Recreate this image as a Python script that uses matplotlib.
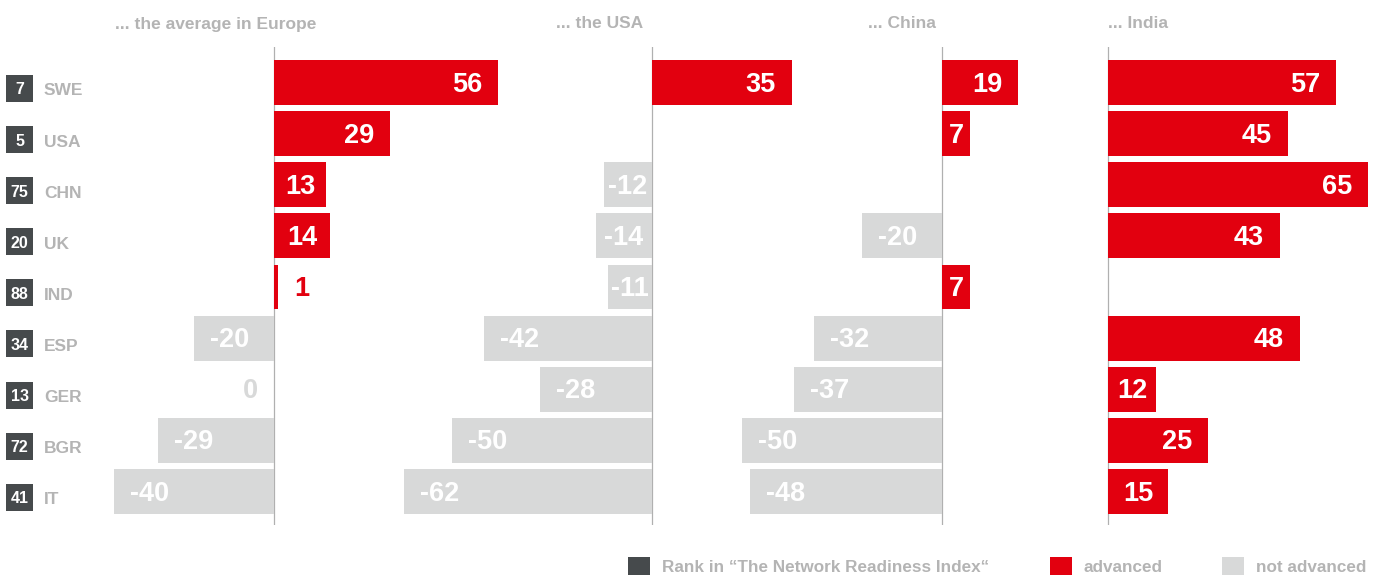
import numpy as np
import matplotlib.pyplot as plt
from matplotlib.patches import Rectangle
from matplotlib.transforms import blended_transform_factory

countries = ["SWE", "USA", "CHN", "UK", "IND", "ESP", "GER", "BGR", "IT"]
ranks = [7, 5, 75, 20, 88, 34, 13, 72, 41]
panel_titles = ["... the average in Europe", "... the USA", "... China", "... India"]
vs_europe = [56, 29, 13, 14, 1, -20, 0, -29, -40]
vs_usa = [35, np.nan, -12, -14, -11, -42, -28, -50, -62]
vs_china = [19, 7, np.nan, -20, 7, -32, -37, -50, -48]
vs_india = [57, 45, 65, 43, np.nan, 48, 12, 25, 15]
panels = [vs_europe, vs_usa, vs_china, vs_india]

RED = "#e2000f"
GREY = "#d8d9d9"
TXT = "#b4b4b4"
DARK = "#464a4c"
W, H = 1383, 575
plt.rcParams["font.family"] = ["Liberation Sans", "DejaVu Sans"]

fig = plt.figure(figsize=(W / 100, H / 100), dpi=100)

# pixel layout of the panels (zero line position), ~4 px per unit
zeros = [274, 652, 942, 1108]
title_x = [115, 556, 868, 1108]
px_per_unit = 4.0
half = 70
top_px, bot_px = 47, 525
ylim = (8.656, -0.695)


def value_label(ax, x, y, txt, ha, color):
    ax.text(x, y + 0.04, txt, ha=ha, va="center", color=color, fontsize=19.5,
            fontweight="bold", zorder=3)


axes = []
for i, vals in enumerate(panels):
    left = zeros[i] - half * px_per_unit
    width = 2 * half * px_per_unit
    ax = fig.add_axes([left / W, 1 - bot_px / H, width / W, (bot_px - top_px) / H])
    ax.set_xlim(-half, half)
    ax.set_ylim(*ylim)
    ax.patch.set_visible(False)
    ax.axis("off")
    ax.axvline(0, color="#b0b0b0", lw=0.9, zorder=1)
    y = np.arange(len(countries))
    v = np.array(vals, dtype=float)
    colors = [RED if x > 0 else GREY for x in v]
    ax.barh(y, np.nan_to_num(v), height=0.88, color=colors, zorder=2)
    for yi, x in zip(y, v):
        if np.isnan(x):
            continue
        col = RED if x > 0 else GREY
        lab = f"{int(x)}"
        if abs(x) < 5:
            # too small: label sits outside in bar colour
            if x > 0:
                value_label(ax, x + 4, yi, lab, "left", col)
            else:
                value_label(ax, x - 4, yi, lab, "right", col)
        elif abs(x) <= 16:
            value_label(ax, x / 2, yi, lab, "center", "white")
        elif x > 0:
            value_label(ax, x - 4, yi, lab, "right", "white")
        else:
            value_label(ax, x + 4, yi, lab, "left", "white")
    fig.text(title_x[i] / W, 1 - 24 / H, panel_titles[i], ha="left", va="center",
             color=TXT, fontsize=12.5, fontweight="bold")
    axes.append(ax)

# rank boxes and country names
tr = blended_transform_factory(fig.transFigure, axes[0].transData)
for yi, (c, r) in enumerate(zip(countries, ranks)):
    yc = yi + 0.115
    box = Rectangle((6 / W, yc - 0.264), 27 / W, 0.528, transform=tr,
                    facecolor=DARK, edgecolor="none", clip_on=False)
    fig.add_artist(box)
    fig.text(19.5 / W, yc + 0.03, str(r), transform=tr, ha="center", va="center",
             color="white", fontsize=11.5, fontweight="bold")
    fig.text(44 / W, yc + 0.05, c, transform=tr, ha="left", va="center",
             color=TXT, fontsize=12.5, fontweight="bold")

# legend
legend_items = [(628, DARK, "Rank in \u201cThe Network Readiness Index\u201c"),
                (1050, RED, "advanced"),
                (1222, GREY, "not advanced")]
for x0, col, lab in legend_items:
    fig.add_artist(Rectangle((x0 / W, 1 - 579 / H), 22 / W, 22 / H,
                             transform=fig.transFigure, facecolor=col,
                             edgecolor="none"))
    fig.text((x0 + 34) / W, 1 - 568 / H, lab, ha="left", va="center",
             color=TXT, fontsize=12.3, fontweight="bold")

fig.savefig("out.png", dpi=100)
